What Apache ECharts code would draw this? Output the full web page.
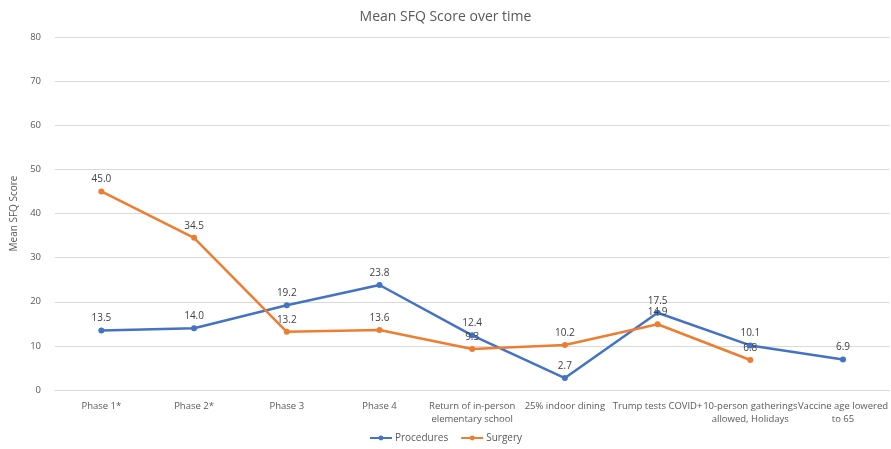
<!DOCTYPE html>
<html lang="en" style="background: #FFFFFF;height: 100%">
<head>
    <meta charset="utf-8" />
    <title>Mean SFQ Score over time</title>
    <script src="https://cdn.jsdelivr.net/npm/echarts@6/dist/echarts.min.js"></script>
</head>
<body style="margin: 0;height: 100%">
    <div id="chart" style="width:891px;height:449px"></div>
    <script>
    let categories = [
        'Phase 1*', 'Phase 2*', 'Phase 3', 'Phase 4',
        'Return of in-person\nelementary school', '25% indoor dining',
        'Trump tests COVID+', '10-person gatherings\nallowed, Holidays',
        'Vaccine age lowered\nto 65'
    ]
    let procedures = [13.5, 14.0, 19.2, 23.8, 12.4, 2.7, 17.5, 10.1, 6.9]
    let surgery = [45.0, 34.5, 13.2, 13.6, 9.3, 10.2, 14.9, 6.8, null]

    let font = 'Open Sans'
    let chart = echarts.init(document.getElementById('chart'))

    function lineSeries(name, data, color) {
        return {
            name: name,
            type: 'line',
            data: data,
            symbol: 'circle',
            symbolSize: 6,
            lineStyle: { width: 2.5, color: color },
            itemStyle: { color: color },
            label: {
                show: true,
                position: 'top',
                distance: 4,
                fontFamily: font,
                fontSize: 10,
                color: '#404040',
                formatter: p => p.value == null ? '' : p.value.toFixed(1)
            }
        }
    }

    chart.setOption({
        animation: false,
        title: {
            text: 'Mean SFQ Score over time',
            left: 'center',
            top: 5,
            textStyle: { fontFamily: font, fontSize: 14, fontWeight: 'normal', color: '#595959' }
        },
        legend: {
            bottom: 1,
            left: 'center',
            itemWidth: 22,
            itemHeight: 6,
            itemGap: 12,
            textStyle: { fontFamily: font, fontSize: 10, color: '#595959', padding: [0, 0, 0, -2] }
        },
        grid: { left: 55, right: 0, top: 37, bottom: 59 },
        xAxis: {
            type: 'category',
            data: categories,
            axisTick: { show: false },
            axisLine: { lineStyle: { color: '#d9d9d9' } },
            axisLabel: {
                interval: 0,
                margin: 10,
                fontFamily: font,
                fontSize: 9.5,
                lineHeight: 13,
                color: '#595959'
            }
        },
        yAxis: {
            type: 'value',
            min: 0,
            max: 80,
            interval: 10,
            name: 'Mean SFQ Score',
            nameLocation: 'middle',
            nameGap: 30,
            nameTextStyle: { fontFamily: font, fontSize: 10, color: '#595959' },
            axisLabel: { fontFamily: font, fontSize: 9.5, color: '#595959', margin: 14 },
            splitLine: { lineStyle: { color: '#d9d9d9' } }
        },
        series: [
            lineSeries('Procedures', procedures, '#4472C4'),
            lineSeries('Surgery', surgery, '#ED7D31')
        ]
    })
    </script>
</body>
</html>
